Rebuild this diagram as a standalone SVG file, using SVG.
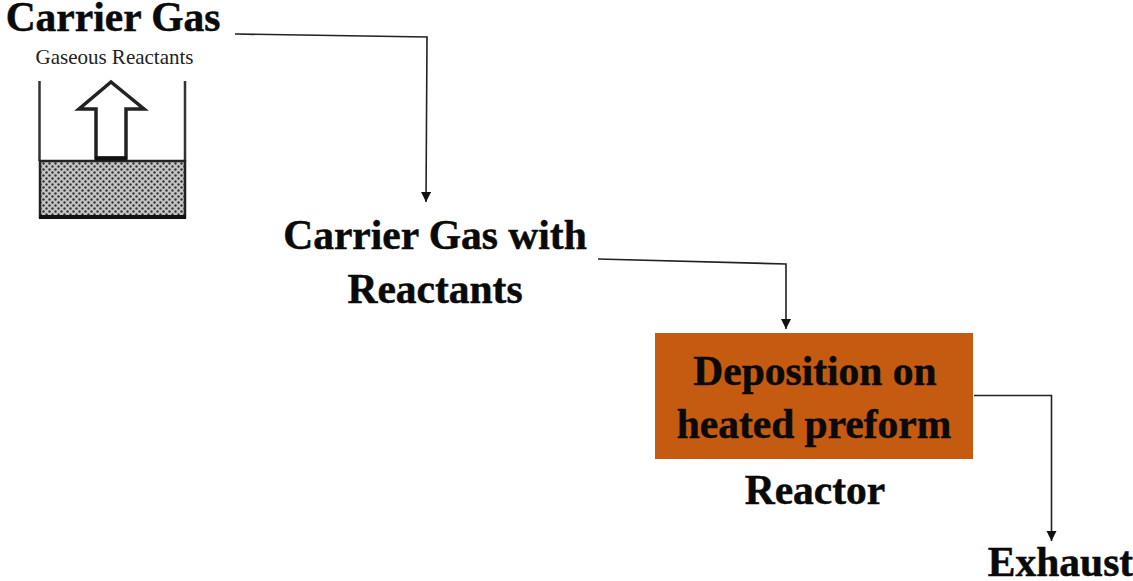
<svg xmlns="http://www.w3.org/2000/svg" width="1133" height="581" viewBox="0 0 1133 581">
<style>
text{font-family:"Liberation Serif","Times New Roman",serif;font-weight:bold;font-size:41.500px;fill:#0a0a0a;stroke:#0a0a0a;stroke-width:.5;text-anchor:middle}
text.small{font-weight:normal;font-size:21px;fill:#222;stroke:none}
.conn{fill:none;stroke:#222;stroke-width:1.6;marker-end:url(#ah)}
</style>
<defs>
<marker id="ah" markerUnits="userSpaceOnUse" markerWidth="12" markerHeight="12" refX="10" refY="5" orient="auto"><path d="M0 0L10 5L0 10Z" fill="#111"/></marker>
<pattern id="dots" width="6" height="6" patternUnits="userSpaceOnUse"><rect width="6" height="6" fill="#c4c4c4"/><circle cx="1.500" cy="1.500" r="1.200" fill="#333"/><circle cx="4.500" cy="4.500" r="1.200" fill="#333"/></pattern>
</defs>
<rect width="1133" height="581" fill="#fff"/>
<g id="connectors">
<path class="conn" d="M235 34L427 37L426 202"/>
<path class="conn" d="M598 259L786 264V329"/>
<path class="conn" d="M974 395.500H1051.500V541"/>
</g>
<g id="carrier-gas"><text x="113" y="31">Carrier Gas</text></g>
<g id="gaseous-reactants">
<text class="small" x="114.500" y="64">Gaseous Reactants</text>
<path d="M39.500 81V161M185 81V161" fill="none" stroke="#333" stroke-width="2.500"/>
<rect x="40" y="161" width="145" height="56" fill="url(#dots)" stroke="#222" stroke-width="2.500"/>
<path d="M39 217H186" stroke="#111" stroke-width="4"/>
<path d="M96 158V109H79L111 82L144 109H126V158Z" fill="#fff" stroke="#222" stroke-width="3.500"/>
<path d="M95 158.500H127" stroke="#111" stroke-width="4"/>
</g>
<g id="carrier-gas-with-reactants"><text x="435" y="249">Carrier Gas with</text><text x="435" y="303">Reactants</text></g>
<g id="reactor-box">
<rect x="655" y="333" width="318" height="126" fill="#c55a11"/>
<text x="815" y="385">Deposition on</text><text x="814" y="438">heated preform</text>
</g>
<g id="reactor"><text x="815" y="504">Reactor</text></g>
<g id="exhaust"><text x="1060.500" y="576">Exhaust</text></g>
</svg>
